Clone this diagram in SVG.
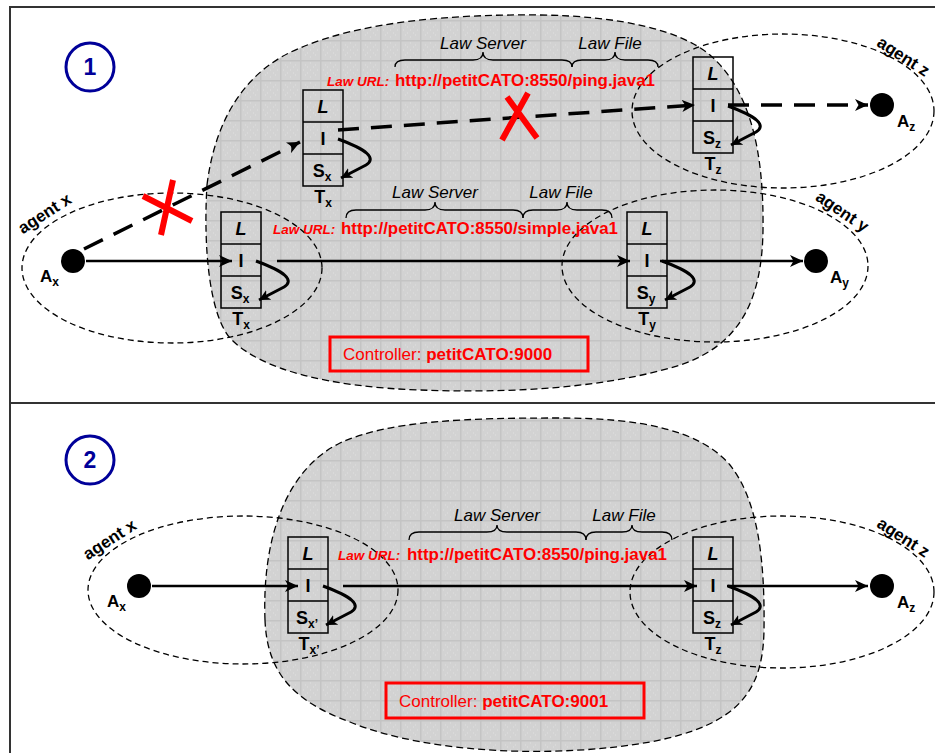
<svg xmlns="http://www.w3.org/2000/svg" width="935" height="753" viewBox="0 0 935 753">
<defs>
<pattern id="grid" width="20" height="20" patternUnits="userSpaceOnUse">
<rect width="20" height="20" fill="#d2d2d2"/>
<path d="M0,0.75 H20 M0.75,0 V20" stroke="#c4c4c4" stroke-width="1.5"/>
<path d="M5,5 h1 M10,10 h1 M15,5 h1 M5,15 h1 M15,15 h1 M10,3 h1 M3,10 h1 M17,10 h1 M10,17 h1 M7,7 h1 M13,13 h1 M7,13 h1 M13,7 h1" stroke="#e0e0e0" stroke-width="1"/>
</pattern>
<marker id="ah" markerUnits="userSpaceOnUse" markerWidth="14" markerHeight="12" refX="13" refY="6" orient="auto" viewBox="0 0 14 12">
<path d="M0,0 L13,6 L0,12 L3.5,6 Z" fill="#000"/>
</marker>
<marker id="ahs" markerUnits="userSpaceOnUse" markerWidth="12" markerHeight="11" refX="11" refY="5.5" orient="auto" viewBox="0 0 12 11">
<path d="M0,0 L11,5.5 L0,11 L3,5.5 Z" fill="#000"/>
</marker>
<style>
.frame{stroke:#333;stroke-width:2;fill:none}
.blob{fill:url(#grid);stroke:#000;stroke-width:1.3;stroke-dasharray:7,4}
.agent{fill:none;stroke:#000;stroke-width:1.3;stroke-dasharray:6,4}
.num{fill:none;stroke:#000099;stroke-width:3}
.numt{font-family:"Liberation Sans",Arial,sans-serif;font-weight:bold;font-size:23px;fill:#000099;text-anchor:middle}
.cell{fill:none;stroke:#000;stroke-width:1.5}
.t{font-family:"Liberation Sans",Arial,sans-serif;font-weight:bold;font-size:18px;fill:#000;text-anchor:middle}
.ti{font-style:italic}
.sub{font-size:12px}
.al{font-family:"Liberation Sans",Arial,sans-serif;font-weight:bold;font-size:17px;fill:#000}
.ag{font-family:"Liberation Sans",Arial,sans-serif;font-weight:bold;font-size:17px;fill:#000;text-anchor:middle}
.dot{fill:#000}
.lbl{font-family:"Liberation Sans",Arial,sans-serif;font-style:italic;font-size:17px;fill:#000;text-anchor:middle}
.brace{fill:none;stroke:#000;stroke-width:1.3}
.lurl{font-family:"Liberation Sans",Arial,sans-serif;font-style:italic;font-weight:bold;font-size:13.5px;fill:#ff0000}
.url{font-family:"Liberation Sans",Arial,sans-serif;font-weight:bold;font-size:17px;fill:#ff0000}
.ctl{fill:none;stroke:#ff0000;stroke-width:3}
.ctlt{font-family:"Liberation Sans",Arial,sans-serif;font-size:17px;fill:#ff0000}
.solid{fill:none;stroke:#000;stroke-width:2.5;marker-end:url(#ah)}
.dash{fill:none;stroke:#000;stroke-width:3.5;stroke-dasharray:21,12;marker-end:url(#ah)}
.loop{fill:none;stroke:#000;stroke-width:3;marker-end:url(#ahs)}
.xmark{stroke:#ff0000;stroke-width:6;fill:none}
</style>
</defs>

<rect width="935" height="753" fill="#fff"/>

<g id="frame">
<path class="frame" d="M10,753 V7 H935 M10,403 H935"/>
</g>

<!-- Panel 1 -->
<g id="law-space-1">
<path class="blob" d="M207,185 C215,120 245,70 300,48 C360,22 450,14 540,15 C620,16 680,30 710,55 C750,90 764,150 763,230 C762,300 740,345 680,365 C600,390 500,393 420,390 C330,387 260,370 230,338 C210,315 203,250 207,185 Z"/>
</g>

<g id="step-1">
<circle class="num" cx="90" cy="67" r="24"/>
<text class="numt" x="90" y="75">1</text>
</g>

<g id="agent-x-1">
<ellipse class="agent" cx="172" cy="268" rx="150" ry="75"/>
<text class="ag" transform="translate(45,214) rotate(-33)" dy="5">agent x</text>
<circle class="dot" cx="73" cy="261" r="12"/>
<text class="al" x="40" y="282">A<tspan class="sub" dy="4">x</tspan></text>
</g>

<g id="agent-y-1">
<ellipse class="agent" cx="715" cy="266" rx="153" ry="76"/>
<text class="ag" transform="translate(842,212) rotate(34)" dy="5">agent y</text>
<circle class="dot" cx="816" cy="261" r="12"/>
<text class="al" x="830" y="283">A<tspan class="sub" dy="4">y</tspan></text>
</g>

<g id="agent-z-1">
<ellipse class="agent" cx="783" cy="111" rx="151" ry="77"/>
<text class="ag" transform="translate(903,57) rotate(33)" dy="5">agent z</text>
<circle class="dot" cx="882" cy="105" r="12"/>
<text class="al" x="897" y="127">A<tspan class="sub" dy="4">z</tspan></text>
</g>

<g id="law-url-ping-1">
<path class="brace" d="M395,67 Q395,60 405,60 L473,60 Q483,60 483,52 Q483,60 493,60 L562,60 Q572,60 572,67"/>
<path class="brace" d="M572,67 Q572,60 582,60 L605,60 Q615,60 615,52 Q615,60 625,60 L648,60 Q658,60 658,67"/>
<text class="lbl" x="483" y="49">Law Server</text>
<text class="lbl" x="610" y="49">Law File</text>
<text class="lurl" x="327" y="86">Law URL:</text>
<text class="url" x="395" y="86" textLength="260" lengthAdjust="spacingAndGlyphs">http://petitCATO:8550/ping.java1</text>
</g>

<g id="law-url-simple-1">
<path class="brace" d="M346,218 Q346,210 356,210 L425,210 Q435,210 435,202 Q435,210 445,210 L513,210 Q523,210 523,218"/>
<path class="brace" d="M523,218 Q523,210 533,210 L557,210 Q567,210 567,202 Q567,210 577,210 L602,210 Q612,210 612,218"/>
<text class="lbl" x="435" y="198">Law Server</text>
<text class="lbl" x="561" y="198">Law File</text>
<text class="lurl" x="273" y="234">Law URL:</text>
<text class="url" x="341" y="234" textLength="277" lengthAdjust="spacingAndGlyphs">http://petitCATO:8550/simple.java1</text>
</g>

<g id="tuple-tx-ping">
<rect class="cell" x="303" y="90" width="40" height="96"/>
<path class="cell" d="M303,122 H343 M303,154 H343"/>
<text class="t ti" x="323" y="113">L</text>
<text class="t" x="323" y="145">I</text>
<text class="t" x="322" y="177">S<tspan class="sub" dy="4">x</tspan></text>
<text class="t" x="323" y="203">T<tspan class="sub" dy="4">x</tspan></text>
</g>

<g id="tuple-tx-simple">
<rect class="cell" x="221" y="212" width="40" height="96"/>
<path class="cell" d="M221,244 H261 M221,276 H261"/>
<text class="t ti" x="241" y="235">L</text>
<text class="t" x="241" y="267">I</text>
<text class="t" x="240" y="299">S<tspan class="sub" dy="4">x</tspan></text>
<text class="t" x="241" y="325">T<tspan class="sub" dy="4">x</tspan></text>
</g>

<g id="tuple-ty">
<rect class="cell" x="627" y="212" width="40" height="96"/>
<path class="cell" d="M627,244 H667 M627,276 H667"/>
<text class="t ti" x="647" y="235">L</text>
<text class="t" x="647" y="267">I</text>
<text class="t" x="646" y="299">S<tspan class="sub" dy="4">y</tspan></text>
<text class="t" x="647" y="325">T<tspan class="sub" dy="4">y</tspan></text>
</g>

<g id="tuple-tz-1">
<rect class="cell" x="693" y="57" width="40" height="96"/>
<path class="cell" d="M693,89 H733 M693,121 H733"/>
<text class="t ti" x="713" y="80">L</text>
<text class="t" x="713" y="112">I</text>
<text class="t" x="712" y="144">S<tspan class="sub" dy="4">z</tspan></text>
<text class="t" x="713" y="170">T<tspan class="sub" dy="4">z</tspan></text>
</g>

<g id="controller-1">
<rect class="ctl" x="330" y="337" width="258" height="34"/>
<text class="ctlt" x="343" y="360">Controller: <tspan font-weight="bold">petitCATO:9000</tspan></text>
</g>

<!-- Panel 2 -->
<g id="law-space-2">
<path class="blob" d="M265,620 C262,540 285,470 340,443 C390,420 470,418 560,418 C640,418 700,430 730,465 C758,500 765,560 764,630 C763,690 740,725 650,742 C560,758 430,755 350,722 C290,700 267,670 265,620 Z"/>
</g>

<g id="step-2">
<circle class="num" cx="90" cy="460" r="24"/>
<text class="numt" x="90" y="468">2</text>
</g>

<g id="agent-x-2">
<ellipse class="agent" cx="243" cy="590" rx="155" ry="74"/>
<text class="ag" transform="translate(110,540) rotate(-33)" dy="5">agent x</text>
<circle class="dot" cx="139" cy="586" r="12"/>
<text class="al" x="107" y="607">A<tspan class="sub" dy="4">x</tspan></text>
</g>

<g id="agent-z-2">
<ellipse class="agent" cx="782" cy="592" rx="152" ry="76"/>
<text class="ag" transform="translate(903,538) rotate(33)" dy="5">agent z</text>
<circle class="dot" cx="882" cy="586" r="12"/>
<text class="al" x="897" y="608">A<tspan class="sub" dy="4">z</tspan></text>
</g>

<g id="law-url-ping-2">
<path class="brace" d="M409,540 Q409,532 419,532 L487,532 Q497,532 497,525 Q497,532 507,532 L576,532 Q586,532 586,540"/>
<path class="brace" d="M586,540 Q586,532 596,532 L622,532 Q632,532 632,525 Q632,532 642,532 L662,532 Q672,532 672,540"/>
<text class="lbl" x="497" y="521">Law Server</text>
<text class="lbl" x="624" y="521">Law File</text>
<text class="lurl" x="338" y="560">Law URL:</text>
<text class="url" x="407" y="560" textLength="260" lengthAdjust="spacingAndGlyphs">http://petitCATO:8550/ping.java1</text>
</g>

<g id="tuple-tx-prime">
<rect class="cell" x="288" y="537" width="40" height="96"/>
<path class="cell" d="M288,569 H328 M288,601 H328"/>
<text class="t ti" x="308" y="560">L</text>
<text class="t" x="308" y="592">I</text>
<text class="t" x="307" y="624">S<tspan class="sub" dy="4">x’</tspan></text>
<text class="t" x="309" y="650">T<tspan class="sub" dy="4">x’</tspan></text>
</g>

<g id="tuple-tz-2">
<rect class="cell" x="693" y="537" width="40" height="96"/>
<path class="cell" d="M693,569 H733 M693,601 H733"/>
<text class="t ti" x="713" y="560">L</text>
<text class="t" x="713" y="592">I</text>
<text class="t" x="712" y="624">S<tspan class="sub" dy="4">z</tspan></text>
<text class="t" x="713" y="650">T<tspan class="sub" dy="4">z</tspan></text>
</g>

<g id="controller-2">
<rect class="ctl" x="386" y="683" width="258" height="35"/>
<text class="ctlt" x="399" y="707">Controller: <tspan font-weight="bold">petitCATO:9001</tspan></text>
</g>

<g id="connectors">
<!-- panel 1 -->
<path class="dash" d="M84,249 L300,142"/>
<path class="dash" d="M338,130 L695,105"/>
<path class="dash" d="M728,105 L868,105"/>
<path class="solid" d="M86,261 L232,261"/>
<path class="solid" d="M277,261 L630,261"/>
<path class="solid" d="M660,261 L803,261"/>
<path class="loop" d="M338,139 Q382,155 366,165 L341,178"/>
<path class="loop" d="M256,261 Q300,277 284,287 L259,300"/>
<path class="loop" d="M662,261 Q706,277 690,287 L665,300"/>
<path class="loop" d="M728,106 Q772,122 756,132 L731,145"/>
<!-- panel 2 -->
<path class="solid" d="M152,586 L298,586"/>
<path class="solid" d="M343,586 L697,586"/>
<path class="solid" d="M727,586 L868,586"/>
<path class="loop" d="M323,586 Q367,602 351,612 L326,625"/>
<path class="loop" d="M728,586 Q772,602 756,612 L731,625"/>
</g>

<g id="blocked-marks">
<path class="xmark" d="M143,196 L192,221 M173,180 L161,235"/>
<path class="xmark" d="M507,97 L537,138 M528,93 L502,140"/>
</g>
</svg>
